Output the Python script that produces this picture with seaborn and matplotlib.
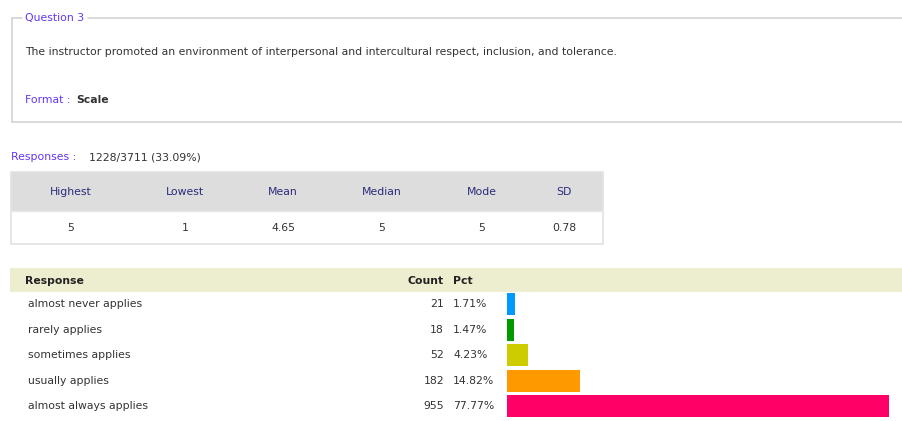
import matplotlib
matplotlib.use("Agg")
import matplotlib.pyplot as plt
import matplotlib.patches as mpatches
import matplotlib.transforms as mtransforms
import seaborn as sns
import pandas as pd

sns.set_theme(style="white")
plt.rcParams['font.family'] = ['DejaVu Sans']

# ---- data ----
question_title = "Question 3"
question_text = ("The instructor promoted an environment of interpersonal and "
                 "intercultural respect, inclusion, and tolerance.")
question_format = "Scale"
responses_text = "1228/3711 (33.09%)"

stat_names = ["Highest", "Lowest", "Mean", "Median", "Mode", "SD"]
stat_values = ["5", "1", "4.65", "5", "5", "0.78"]

categories = ["almost never applies", "rarely applies", "sometimes applies",
              "usually applies", "almost always applies"]
counts = [21, 18, 52, 182, 955]
pcts = [1.71, 1.47, 4.23, 14.82, 77.77]
bar_colors = ["#0099FF", "#009900", "#CCCC00", "#FF9900", "#FF0066"]

# ---- figure ----
W, H = 903, 421
fig = plt.figure(figsize=(W / 100, H / 100), dpi=100)
fig.patch.set_facecolor("white")

def fx(px):
    return px / W

def fy(py):
    return 1 - py / H

PURPLE = "#6236F5"
TEXT = "#333333"
NAVY = "#2B2B7A"
FS = 7.8

# fieldset box
border = "#D3D3D3"
fig.add_artist(plt.Line2D([fx(12), fx(12)], [fy(18), fy(122)], color=border, lw=1.2))
fig.add_artist(plt.Line2D([fx(12), fx(W + 5)], [fy(122), fy(122)], color=border, lw=1.2))
fig.add_artist(plt.Line2D([fx(12), fx(22)], [fy(18), fy(18)], color=border, lw=1.2))
fig.add_artist(plt.Line2D([fx(88), fx(W + 5)], [fy(18), fy(18)], color=border, lw=1.2))
fig.text(fx(25), fy(18), question_title, color=PURPLE, fontsize=FS, va="center", ha="left")
fig.text(fx(25), fy(52), question_text, color=TEXT, fontsize=FS, va="center", ha="left")
fig.text(fx(25), fy(100), "Format : ", color=PURPLE, fontsize=FS, va="center", ha="left")
fig.text(fx(76), fy(100), question_format, color=TEXT, fontsize=FS, va="center",
         ha="left", fontweight="bold")

# responses line
fig.text(fx(11), fy(157), "Responses :", color=PURPLE, fontsize=FS, va="center", ha="left")
fig.text(fx(89), fy(157), responses_text, color=TEXT, fontsize=FS, va="center", ha="left")

# stats table
tbl_l, tbl_r, tbl_t, tbl_m, tbl_b = 11, 603, 172, 211, 244
fig.add_artist(mpatches.Rectangle((fx(tbl_l), fy(tbl_m)), fx(tbl_r - tbl_l), (tbl_m - tbl_t) / H,
                                  facecolor="#DDDDDD", edgecolor="none"))
fig.add_artist(mpatches.Rectangle((fx(tbl_l), fy(tbl_b)), fx(tbl_r - tbl_l), (tbl_b - tbl_t) / H,
                                  facecolor="none", edgecolor="#E2E2E2", lw=1.2))
fig.add_artist(plt.Line2D([fx(tbl_l), fx(tbl_r)], [fy(tbl_m), fy(tbl_m)], color="#E8E8E8", lw=1.0))
col_centers = [71, 185, 283, 382, 482, 564]
for name, val, cx in zip(stat_names, stat_values, col_centers):
    fig.text(fx(cx), fy(192), name, color=NAVY, fontsize=FS, ha="center", va="center")
    fig.text(fx(cx), fy(228), val, color=TEXT, fontsize=FS, ha="center", va="center")

# response header band
fig.add_artist(mpatches.Rectangle((fx(10), fy(292)), fx(W - 10), 24 / H,
                                  facecolor="#EDEDCF", edgecolor="none"))
fig.text(fx(25), fy(281), "Response", color="#222222", fontsize=FS, fontweight="bold",
         ha="left", va="center")
fig.text(fx(444), fy(281), "Count", color="#222222", fontsize=FS, fontweight="bold",
         ha="right", va="center")
fig.text(fx(453), fy(281), "Pct", color="#222222", fontsize=FS, fontweight="bold",
         ha="left", va="center")

# bar axes
px_per_pct = 4.908
ax_left, ax_right = 507, 903
ax_top, ax_bottom = 291.5, 419
ax = fig.add_axes([fx(ax_left), fy(ax_bottom), fx(ax_right - ax_left), (ax_bottom - ax_top) / H])
df = pd.DataFrame({"category": categories, "pct": pcts, "count": counts})
sns.barplot(data=df, x="pct", y="category", hue="category", palette=bar_colors,
            order=categories, hue_order=categories, orient="h", width=0.86,
            legend=False, ax=ax, saturation=1, edgecolor="none")
ax.set_xlim(0, (ax_right - ax_left) / px_per_pct)
ax.set_ylim(len(categories) - 0.5, -0.5)
ax.axis("off")

tr = mtransforms.blended_transform_factory(fig.transFigure, ax.transData)
for i, (c, n, p) in enumerate(zip(categories, counts, pcts)):
    ax.text(fx(28), i, c, transform=tr, color=TEXT, fontsize=FS, ha="left", va="center")
    ax.text(fx(444), i, str(n), transform=tr, color=TEXT, fontsize=FS, ha="right", va="center")
    ax.text(fx(453), i, f"{p:.2f}%", transform=tr, color=TEXT, fontsize=FS, ha="left", va="center")

fig.savefig("out.png", dpi=100, facecolor="white")
